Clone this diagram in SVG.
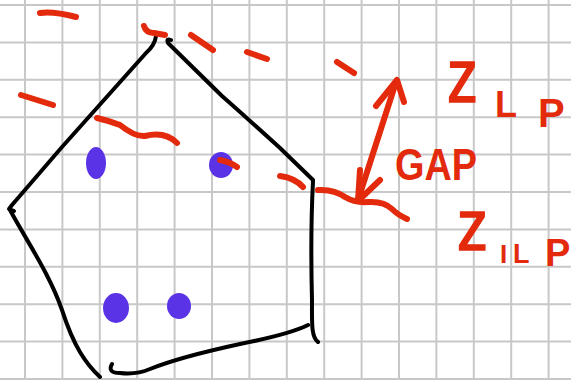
<svg xmlns="http://www.w3.org/2000/svg" width="571" height="380" viewBox="0 0 571 380">
<style>
.grid{stroke:#c8c8c8;stroke-width:2;fill:none}
.blk{stroke:#000;stroke-width:4;fill:none;stroke-linecap:round;stroke-linejoin:round}
.red{stroke:#e32a0c;stroke-width:6;fill:none;stroke-linecap:round;stroke-linejoin:round}
.dot{fill:#5b33e6}
.lbl{font-family:"Liberation Sans",Arial,sans-serif;font-weight:bold;fill:#e32a0c}
.zz{font-weight:normal;stroke:#e32a0c;stroke-width:1.5}
</style>
<rect width="571" height="380" fill="#fff"/>
<g id="grid">
<path class="grid" d="M25,0V380M62.4,0V380M99.8,0V380M137.2,0V380M174.6,0V380M212,0V380M249.4,0V380M286.8,0V380M324.2,0V380M361.6,0V380M399,0V380M436.4,0V380M473.8,0V380M511.2,0V380M548.6,0V380M0,5H571M0,42.4H571M0,79.8H571M0,117.2H571M0,154.6H571M0,192H571M0,229.4H571M0,266.8H571M0,304.2H571M0,341.6H571M0,379H571"/>
</g>
<g id="polytope">
<path class="blk" d="M156,36 Q155,45 146,53 L62,147 L12,205 L9,209 L14,211"/>
<path class="blk" d="M10,210 C28,243 50,275 62,310 C74,347 86,364 100,377"/>
<path class="blk" d="M171,40 Q166,38 168,43 L222,96 Q238,110 280,148 L313,180"/>
<path class="blk" d="M313,181 C311,220 311,262 312,300 C312,322 311,337 318,342"/>
<path class="blk" d="M112,364 Q107,373 120,373 Q136,375 150,369 Q180,357 240,344 Q290,334 308,325"/>
</g>
<g id="points">
<ellipse class="dot" cx="96" cy="163" rx="10" ry="16"/>
<ellipse class="dot" cx="221" cy="165" rx="12" ry="13"/>
<ellipse class="dot" cx="116" cy="308" rx="13" ry="15"/>
<ellipse class="dot" cx="179" cy="306" rx="12" ry="13"/>
</g>
<g id="levels">
<path class="red" d="M40,13 Q53,11 76,17"/>
<path class="red" d="M144,26 Q146,33 154,33 L165,35"/>
<path class="red" d="M191,35 L213,50"/>
<path class="red" d="M247,52 L267,59"/>
<path class="red" d="M337,62 L354,73"/>
<path class="red" d="M21,95 L53,105"/>
<path class="red" d="M97,118 Q110,121 120,125 Q135,137 145,136 Q165,131 177,143"/>
<path class="red" d="M220,160 Q230,162 237,167"/>
<path class="red" d="M280,176 Q295,178 303,187"/>
<path class="red" d="M318,190 Q334,189 345,197 Q355,203 368,202 Q384,201 392,209 Q398,215 407,219"/>
</g>
<g id="connectors">
<path class="red" d="M358,200 L396,82"/>
<path class="red" d="M376,106 L397,80 L404,102"/>
<path class="red" d="M360,170 L358,201 L380,180"/>
</g>
<g id="labels">
<text class="lbl" x="395" y="180" font-size="45" textLength="82" lengthAdjust="spacingAndGlyphs">GAP</text>
<text class="lbl zz" x="447" y="102" font-size="76" textLength="31" lengthAdjust="spacingAndGlyphs">z</text>
<text class="lbl" font-size="36"><tspan x="495" y="117">L</tspan><tspan x="538" y="127" font-size="40">P</tspan></text>
<text class="lbl zz" x="457" y="250" font-size="72" textLength="31" lengthAdjust="spacingAndGlyphs">z</text>
<text class="lbl" font-size="26"><tspan x="500" y="263">I</tspan><tspan x="513" y="263" font-size="27">L</tspan><tspan x="545" y="266" font-size="38">P</tspan></text>
</g>
</svg>
